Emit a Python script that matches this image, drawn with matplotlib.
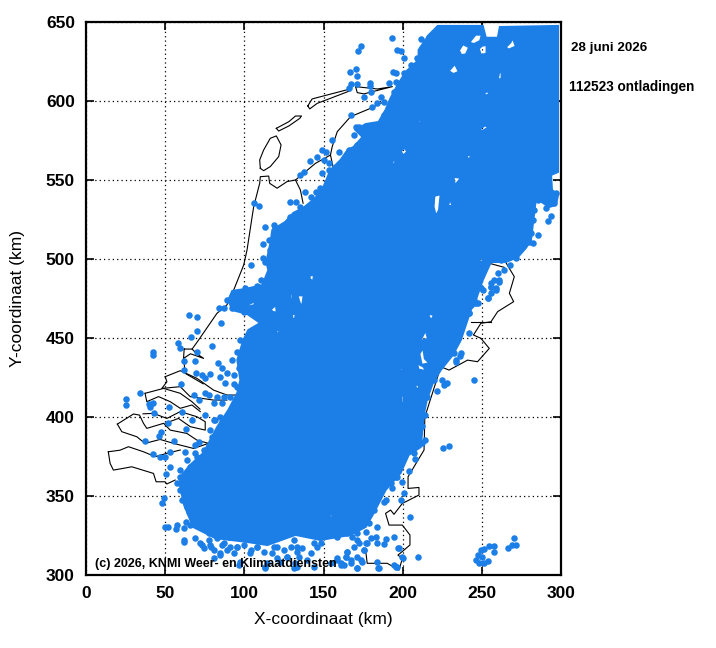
import numpy as np
import matplotlib
matplotlib.use("Agg")
import matplotlib.pyplot as plt
from matplotlib.path import Path
from matplotlib.patches import PathPatch

plt.rcParams['font.family'] = ['Liberation Sans', 'DejaVu Sans']

BLUE = '#1c7fe8'

# solid part of the discharge band, outline (km)
dense_x = [67.7, 62.0, 59.5, 59.5, 65.8, 74.1, 78.5, 82.9, 89.9, 95.6, 97.5, 95.6, 99.4, 102.5,
           110.1, 101.9, 92.4, 89.9, 92.4, 100.6, 111.4, 115.2, 113.9, 116.5, 117.7, 125.9, 131.0,
           137.3, 144.9, 150.0, 154.4, 160.8, 165.2, 169.0, 174.7, 170.3, 176.6, 184.8, 189.2, 192.4,
           196.8, 201.9, 210.1, 210.1, 216.5, 222.2, 250.6, 252.5, 260.1, 261.4, 298.1, 298.1, 293.7,
           294.3, 298.1, 296.8, 292.4, 284.2, 282.9, 281.0, 277.8, 272.8, 265.2, 255.7, 250.6, 246.2,
           243.0, 236.7, 231.6, 224.0, 219.0, 215.2, 213.3, 211.4, 203.8, 198.7, 189.2, 181.0, 176.6,
           167.1, 148.1, 132.3, 114.6, 101.9, 81.6]
dense_y = [330.4, 344.3, 355.7, 362.0, 369.6, 377.2, 385.4, 393.7, 404.4, 415.2, 423.4, 436.1, 448.7, 455.0,
           459.5, 465.2, 467.7, 474.1, 479.8, 481.0, 483.5, 493.0, 498.1, 510.1, 518.4, 523.5, 529.2,
           532.3, 538.6, 545.6, 556.3, 562.7, 569.0, 570.9, 577.2, 581.6, 585.4, 586.7, 594.3, 601.9,
           610.1, 618.4, 626.0, 632.3, 641.8, 647.5, 647.5, 640.0, 640.0, 646.8, 647.5, 555.1, 553.2,
           543.7, 540.5, 534.2, 532.9, 538.6, 527.8, 512.0, 507.0, 501.3, 498.1, 498.1, 486.7, 474.1,
           467.7, 448.7, 439.2, 429.7, 421.5, 410.8, 401.3, 381.0, 376.0, 364.6, 353.8, 338.0, 330.4,
           325.4, 322.2, 325.4, 319.0, 320.9, 323.4]

# gaps inside the band
gaps = [
    [(220, 540), (224, 541), (223, 531), (221, 527), (219.5, 533)],
    [(228.5, 533.5), (231.5, 533.5), (230, 538)],
    [(229, 619), (233, 623.5), (235.5, 618.5), (232, 617)],
    [(235.5, 632), (238, 636), (242, 634), (240, 629.5), (237, 629)],
    [(242, 637), (246, 642), (250, 642), (249, 638), (245, 636)],
    [(248, 633), (250, 635), (253, 635.5), (253, 630), (249.5, 629)],
    [(265, 634), (268, 637), (269.5, 640), (271.5, 634.5), (267, 632.5)],
    [(260, 613.5), (261, 618.5), (262.5, 618), (262.5, 614)],
    [(251.5, 605), (254, 606.5), (254.5, 604), (252, 603.5)],
    [(248, 582), (252, 584.5), (254.5, 583.5), (250.5, 581)],
    [(240, 565), (243, 566.5), (242.5, 562.5)],
    [(232, 552), (236, 551.5), (238.5, 553), (235, 549), (233, 546.5)],
    [(198.7, 568), (201, 570.5), (203, 568), (200.5, 565.5)],
    [(192.5, 559), (194, 559.5), (196, 562), (194, 562.5)],
    [(209, 587), (211, 587.5), (211, 586)],
    [(141, 489.5), (144, 490), (143.5, 486), (141.5, 487)],
    [(146.5, 491.5), (148, 491), (147.5, 489)],
    [(129, 478), (130.5, 478), (130.5, 474.5), (129, 474.5)],
    [(133.5, 477), (137.5, 477), (136.5, 470), (135, 472)],
    [(116.5, 468), (120, 471), (120.5, 466), (118, 466.5)],
    [(120, 455), (122, 455), (122, 453), (120.5, 453)],
    [(130, 465), (132.5, 465.5), (132, 462), (130.5, 462)],
    [(216, 465), (219.5, 465), (219, 462), (217, 462.5)],
    [(211, 448), (214.5, 455), (216, 449.5)],
    [(203.5, 447), (206, 451), (207, 449.5)],
    [(210.5, 440), (213, 444), (214, 437), (217, 434), (212, 433)],
    [(221, 440), (223, 442.5), (223.5, 438), (221.5, 436)],
    [(199, 413), (200.5, 414), (201, 409), (199.5, 409)],
    [(207.5, 421), (210, 420), (212, 421), (209, 417)],
    [(198, 430), (201, 432), (199.5, 428.5)],
    [(209, 434), (213, 432), (215, 429), (210, 430)],
    [(222, 441), (224, 442), (223, 437), (221.5, 437)],
    [(198.5, 396), (200.5, 396), (200, 395)],
    [(153.5, 337), (155, 339.5), (156, 336)],
    [(102, 471), (106, 473), (107, 471), (103, 470)],
    [(248, 498), (250, 502), (251, 498.5)],
]

# single discharges around the band: south-west
sw_x = [64.8, 70, 85.2, 70, 66.5, 58.4, 59.5, 79.5, 42, 42.2, 70, 69, 61.6, 61.6, 69.4, 73.2, 78.5, 83.1, 85.9, 89,
        84.8, 88, 93.7, 93.3, 75.3, 60.1, 33.8, 25.3, 25.3, 39.5, 42.6, 40.5, 52.7, 43, 68, 71.1, 75.3, 77.4, 82.7,
        80.6, 60.6, 75.3, 66.9, 80.6, 84.8, 52.1, 63.3, 78.5, 47.5, 45.8, 37.3, 55.3, 71.1, 68.6, 53.2, 42.6, 46.8,
        50, 62.7, 69, 50.6, 53.2, 59.5, 49.4, 48.3, 50, 51.5, 57.4, 56.8, 62, 63.3, 61.6, 69, 73.2, 77.4, 78.9, 86.9,
        89, 95.4, 100.6, 108, 103.8, 80.6, 96.4, 113.3, 122.8, 133.4, 127, 118.6, 133.4, 143.9, 139.7,
        59.5, 63.7, 68, 57.4, 65.8, 87, 83.8]
sw_y = [464.5, 463, 459.7, 454.4, 450.8, 446.6, 443.4, 444.9, 441.3, 439.2, 441.3, 435.4, 435.6, 429.7, 428, 426.6,
        427.2, 433.9, 430.8, 428, 425.1, 421.3, 426.6, 420.9, 424.5, 420.9, 415, 411.4, 407.6, 408.2, 409, 406.5,
        406.1, 402.3, 413.9, 410.7, 415, 413.9, 412.9, 408.6, 403.4, 401.2, 398.1, 398.1, 400.2, 396.4, 392.4, 391.7,
        390.7, 388.2, 385, 385, 384.4, 382.3, 378, 376.6, 374.9, 374.9, 378, 377, 363.9, 368.5, 366.4, 348.9, 345.3,
        330.6, 330.6, 331.6, 328.9, 322.1, 333.3, 329.5, 323.2, 319, 322.1, 317.9, 320, 315.8, 317.9, 325.3, 317.9,
        313.7, 310.5, 306.3, 305.2, 308.4, 305.2, 311.6, 317.9, 317.9, 320, 309.4,
        353.8, 343.2, 334.8, 358, 368.5, 468.8, 468.8]

# south-east, including the small group near x=250
se_x = [241.6, 245, 225.5, 229.5, 208, 204.2, 198.7, 204.6, 209.9, 214.1, 212.5, 213.9, 221.7, 226.2, 225.1, 228.3,
        236.3, 233.6, 232.5, 253.6, 258.9, 255.7, 261, 246.2, 242, 191.4, 195.6, 200.9, 199.8, 189.2, 193.5, 184,
        179.8, 182.9, 176.6, 175.5, 189.2, 188.2, 194.5, 197, 199.8, 184, 184.6, 194.5, 196.6, 171.3, 173.4, 171.3,
        165, 163.9, 160.8, 167.1, 158.6, 162.9, 165, 158.6, 154.4, 168.1, 171.3, 176.6,
        247.3, 249.4, 251.5, 246.2, 248.3, 251.5, 253.6, 250.4, 254.7, 257.8, 257.4, 266.7, 268.8, 271.5, 270]
se_y = [452.9, 423.4, 380.1, 381.6, 373.4, 365.8, 347.4, 336.9, 311.1, 401.2, 394.3, 385.4, 416.4, 420.2, 423.4, 421.7,
        438.6, 435, 440.7, 475.1, 480.4, 482.5, 485.6, 471.9, 465.6, 360.1, 362.2, 351.7, 359, 347.4, 354.8, 330.6,
        323.2, 324.2, 320, 315.8, 322.5, 319.6, 324.2, 316.8, 311.1, 308.4, 304.2, 306.3, 304.8, 304.2, 309.4, 311.6,
        314.7, 311.6, 307.4, 309.4, 310.5, 306.3, 326.8, 324.2, 325.3, 324.2, 322.1, 327.4,
        312.6, 315.8, 316.2, 309.5, 307.4, 307.4, 308.8, 311.6, 318.5, 318.5, 314.7, 317.2, 318.9, 318.9, 323.2]

# north-west edge and the top
nw_x = [193.5, 173.4, 172, 211.4, 196.6, 198.7, 200.9, 170.3, 166.7, 170.9, 194.1, 195.6, 167.1, 166, 171.3, 179.3,
        179.3, 179.8, 175.5, 186.1, 191.4, 195.6, 184, 180.8, 188.2, 167.5, 170.3, 172.4, 169.2, 155.5, 149.2, 151.3,
        146, 141.3, 150.2, 153.4, 149.2, 137.6, 135.4, 153.4, 159.7, 166, 148.1, 145, 138.2, 141.8, 128.7, 132.9,
        135.4, 105.9, 109.1, 113.3, 118.6, 111.6, 111.8, 113.3, 104.4, 110.5, 108, 100.6]
nw_y = [639.7, 634.8, 631.7, 639.1, 632.3, 631.9, 627, 620.3, 618.6, 615.9, 618.2, 617.5, 610.8, 608, 610.8, 611.6,
        609.7, 606, 602.3, 602.3, 611.2, 612.3, 598.5, 596.4, 599.6, 591.2, 583.8, 583.4, 578.5, 575.3, 569, 568,
        564.8, 562.1, 562.7, 560.6, 554.2, 555.3, 553.2, 556.3, 568, 569, 544.7, 542.6, 542.2, 539.5, 536.3, 536.3,
        533.1, 535.2, 533.6, 520.5, 521.5, 509.5, 500.4, 498.3, 496.2, 486.7, 482.9, 481.4]

# east side strip
east_x = [290.6, 293.7, 291.6, 285.3, 282.1, 280, 282.1, 280, 274.7, 269.5, 265.2, 271.6, 268, 264.2, 260, 257.9,
          255.8, 258.9, 250.5, 255.8, 253.6, 245.2, 247.3, 242, 243, 236.8, 233.6, 295.8, 296.9,
          269.5, 272.6, 266.3, 262.1, 255.8, 261, 276.9, 281, 285.3, 283.2]
east_y = [532.1, 527.2, 524.3, 515.2, 509.9, 511, 524.7, 518.4, 506.7, 503.6, 503.6, 500.4, 496.2, 493, 490.9, 486.7,
          482.5, 481.4, 480.4, 478.3, 475.1, 471.9, 472.4, 465.6, 470.9, 440.3, 436.1, 535.2, 541.6,
          509.9, 514.1, 507.8, 499.4, 484.6, 486.7, 512, 516.2, 537.3, 531]

# thick scatter under the band along the bottom
bottom_x = [61.6, 72.2, 74.3, 78.5, 80.6, 84.9, 85.9, 91.2, 95.4, 93.3, 99.6, 103.9, 108, 112.3, 117.6, 120.7, 125,
            129.2, 133.4, 136.6, 134.4, 127, 120.7, 114.4, 113.3, 131.3, 132.3, 141.8, 146, 148.2, 144, 154.5, 158.7,
            160.8, 164, 167.2, 165, 171.4, 174.5, 169.3, 175.6, 177.7, 172.4, 184, 197.7, 199.9, 185, 195.6, 97.5, 84.9]
bottom_y = [321.1, 320, 316.9, 319, 315.9, 313.8, 319, 318, 318, 313.8, 319, 315.9, 318, 314.8, 313.8, 318, 315.9,
            318, 314.8, 317, 311.7, 311.7, 310.6, 307.4, 304.3, 304.3, 307.4, 313.8, 318, 320, 305.3, 307.4, 309.6,
            306.4, 311.7, 307.4, 314.8, 304.3, 308.5, 318, 315.9, 320, 320, 320, 316.9, 310.6, 304.3, 305.3, 308.5, 312.7]

# points that roughen the rim of the band
rim_x = [97.5, 95.4, 92.2, 96.4, 95.4, 87, 91.2, 85.9, 81.7, 85.9, 79.5, 74.3, 70, 63.7, 59.5, 61.6, 62.7, 60.6, 64.8,
         65.8, 72.2, 77.4, 84.8, 82.7, 90.1, 95.4, 110.1, 120.7, 131.2, 139.7, 148.1, 92.2, 99.6, 110.1, 89,
         115.4, 116.5, 129.1, 119.6, 154.4, 157.6, 165, 171.3, 177.6, 184, 188.2, 192.4, 194.5, 200.9, 205.1, 209.3,
         212.5, 216.7, 222, 226.2,
         232.5, 236.7, 238.8, 245.2, 249.4, 219.8, 215.6, 212, 211.4, 212.5, 207.2, 196.6, 192.4, 188.2, 181.9, 178.7,
         171.3, 162.9, 152.3]
rim_y = [448.7, 441.3, 436.1, 430.8, 419.2, 412.9, 412.9, 408.6, 398.1, 397, 387.5, 379, 374.9, 372.8, 362.2, 358,
         351.7, 347.4, 340, 331.6, 330.6, 326.3, 329.5, 323.2, 324.2, 326.3, 322.1, 324.2, 322.1, 326.3, 324.2, 468.8,
         466.7, 465.6, 474,
         512, 505.7, 526.8, 519.4, 550, 558.5, 565.8, 572.2, 578.5, 584.8, 591.2, 598.5, 605.9, 617.5, 622.8, 627,
         633.4, 640.8, 646, 646,
         446.6, 457.2, 465.6, 474, 481.4, 423.4, 412.9, 408.6, 393.9, 383.3, 377, 362.2, 358, 346.4, 341.1, 332.7,
         326.3, 330.6, 328.4]

# coast and border lines
coast_lines = [
    # Zeeuws-Vlaanderen
    [(14.1, 378), (21.5, 379), (26.8, 381.2), (36.3, 378), (43.7, 374.9), (51.1, 377), (59.5, 379.1)],
    [(14.1, 378), (15.2, 370.7), (17.3, 366.4), (23.6, 367.5), (28.9, 368.5), (42.6, 364.3), (44.3, 359), (50, 359),
     (51, 357.6), (56.3, 360.1)],
    # Walcheren, Zuid-Beveland
    [(19.8, 395.5), (30, 401.9), (33.8, 401.2), (36.3, 396), (38.4, 392.8), (49, 396), (53.2, 391.7), (63.7, 389.6),
     (70, 385.4), (77.4, 383.3)],
    [(19.8, 395.5), (22.6, 390.7), (32.1, 387.5), (37.3, 383.3), (46.8, 385.8), (55.3, 383.3), (67.9, 380.1), (77.4, 383.3)],
    # Schouwen
    [(37.3, 415), (49, 418.1), (59.5, 415), (66.9, 409.7), (72, 405)],
    [(37.3, 415), (38.4, 409.7), (45.8, 412.9), (53.2, 409.7), (59.5, 405.5), (66.9, 407.6), (72.2, 403.4)],
    # Noord-Beveland
    [(36, 402), (42.6, 402.3), (51.1, 399.1), (59.5, 403.4), (70, 400.2), (75.3, 397), (75.3, 391.7), (65.8, 393.9),
     (58.4, 399.1), (50, 396)],
    # Goeree
    [(50, 425.5), (59.5, 429.3), (70, 424.5), (80.6, 417), (89, 413.9), (95.4, 413.9)],
    [(50, 425.5), (51.1, 422.3), (47.9, 418.1), (59.5, 419.2), (65.8, 412.9), (80.6, 410.7), (89, 410.7)],
    # Hoek van Holland
    [(61.6, 437.1), (62.7, 427.6), (74, 421)],
    [(62, 443), (67, 443), (70, 440), (74.3, 437.1), (66, 440), (61.6, 437.1), (62, 443)],
    # Holland up to the Afsluitdijk and Friesland
    [(67, 443), (71.1, 448.7), (82.7, 465.6), (89, 470.9), (93.3, 480.4), (99.6, 496.2), (101.7, 505.7), (105.9, 533.1),
     (109.7, 547.9), (110.1, 552.1), (115.4, 552.5), (116, 547.9), (120.7, 544.8), (127, 549), (132.3, 550), (135.4, 543.7),
     (137.1, 535.3)],
    [(132.3, 550), (145, 560.6), (154.4, 565.8), (155.5, 571.1), (158.7, 580.6), (167.1, 590.1), (179.8, 595.4), (188.2, 599.6)],
    [(154.4, 565.8), (156.5, 556.3)],
    # Texel, Vlieland, Terschelling, Ameland
    [(110.1, 557.4), (109.7, 562.7), (112.2, 569), (116.4, 576.4), (120.2, 577.9), (123.2, 572.2), (121.7, 564.8),
     (116.4, 558.5), (112.2, 555.9), (110.1, 557.4)],
    [(120.2, 582.7), (128.1, 586.9), (132.3, 590.5), (136.1, 590.5), (135, 589), (128.1, 584.2), (121.7, 581), (120.2, 582.7)],
    [(140.1, 596.9), (142.8, 601.3), (166, 607.4), (167.1, 606.6), (154.4, 601.7), (146, 598.5), (141.3, 595), (140.1, 596.9)],
    [(170.3, 609.1), (184, 607.6), (193.5, 609.1), (175.5, 604.5), (171.3, 605.3), (170.3, 609.1)],
    # German and Belgian border
    [(176.6, 315.8), (177.6, 307.4), (185, 307.4), (190.3, 307.4), (197.7, 303.1), (199.8, 310.5), (197, 312.6), (200.9, 315.8),
     (204.6, 319), (204.6, 325.3), (199.8, 331.6), (191.4, 331.6), (189.2, 339), (192.4, 341.1), (194.5, 338.4), (199.8, 345.3),
     (210.3, 350.6), (210.3, 355.4), (203.4, 354.8), (203.4, 362.2), (213.5, 379.1), (214, 400), (224.1, 431.8), (229.3, 429.7),
     (241, 436), (247.3, 435), (254.7, 443.4), (249.4, 449.8), (244.7, 451.9), (249.4, 459.3), (255.8, 460.3), (260, 466.7),
     (270.1, 473), (267.4, 478.3), (270.5, 488.8), (264.2, 499.4)],
    [(254.7, 497.3), (264.2, 494.7)],
    [(243.1, 460.3), (255.8, 460.3)],
]

x_ticks = [0, 50, 100, 150, 200, 250, 300]
y_ticks = [300, 350, 400, 450, 500, 550, 600, 650]


def ring(points, clockwise):
    # holes need the opposite winding from the outline
    pts = np.array(points, dtype=float)
    area = np.sum(pts[:, 0] * np.roll(pts[:, 1], -1) - np.roll(pts[:, 0], -1) * pts[:, 1])
    if (area < 0) != clockwise:
        pts = pts[::-1]
    return pts


def band_path():
    verts, codes = [], []
    outline = ring(list(zip(dense_x, dense_y)), False)
    for pts in [outline] + [ring(g, True) for g in gaps]:
        verts.extend(pts.tolist() + [pts[0].tolist()])
        codes.extend([Path.MOVETO] + [Path.LINETO] * (len(pts) - 1) + [Path.CLOSEPOLY])
    return Path(verts, codes)


fig = plt.figure(figsize=(7.16, 6.48), dpi=100)
ax = fig.add_axes([86 / 716, 73 / 648, 475 / 716, 553 / 648])
ax.set_xlim(0, 300)
ax.set_ylim(300, 650)

ax.grid(True, color='black', linestyle=(0, (1, 2.5)), linewidth=0.9, zorder=1)
ax.set_axisbelow(True)

for line in coast_lines:
    lx, ly = zip(*line)
    ax.plot(lx, ly, color='black', linewidth=0.8, zorder=2)

# the band and the single points
ax.add_patch(PathPatch(band_path(), facecolor=BLUE, edgecolor=BLUE, linewidth=1.5, zorder=3))
for px, py in [(sw_x, sw_y), (se_x, se_y), (nw_x, nw_y), (east_x, east_y), (bottom_x, bottom_y), (rim_x, rim_y)]:
    ax.scatter(px, py, s=22, color=BLUE, linewidths=0, zorder=3)

ax.set_xticks(x_ticks)
ax.set_yticks(y_ticks)
ax.tick_params(direction='in', length=6, width=1.2, top=True, right=True, pad=8)
for label in ax.get_xticklabels() + ax.get_yticklabels():
    label.set_fontsize(12.5)
    label.set_fontweight('bold')
for s in ax.spines.values():
    s.set_linewidth(1.6)
    s.set_zorder(5)

ax.set_xlabel("X-coordinaat (km)", fontsize=12.5, labelpad=8)
ax.set_ylabel("Y-coordinaat (km)", fontsize=12.5, labelpad=15)

ax.text(5.5, 307, "(c) 2026, KNMI Weer- en Klimaatdiensten", fontsize=9, fontweight='bold', va='center', zorder=6)
fig.text(571 / 716, 1 - 48 / 648, "28 juni 2026", fontsize=9.6, fontweight='bold', va='center')
fig.text(569 / 716, 1 - 87 / 648, "112523 ontladingen", fontsize=9.8, fontweight='bold', va='center')

plt.savefig("out.png", dpi=100)
